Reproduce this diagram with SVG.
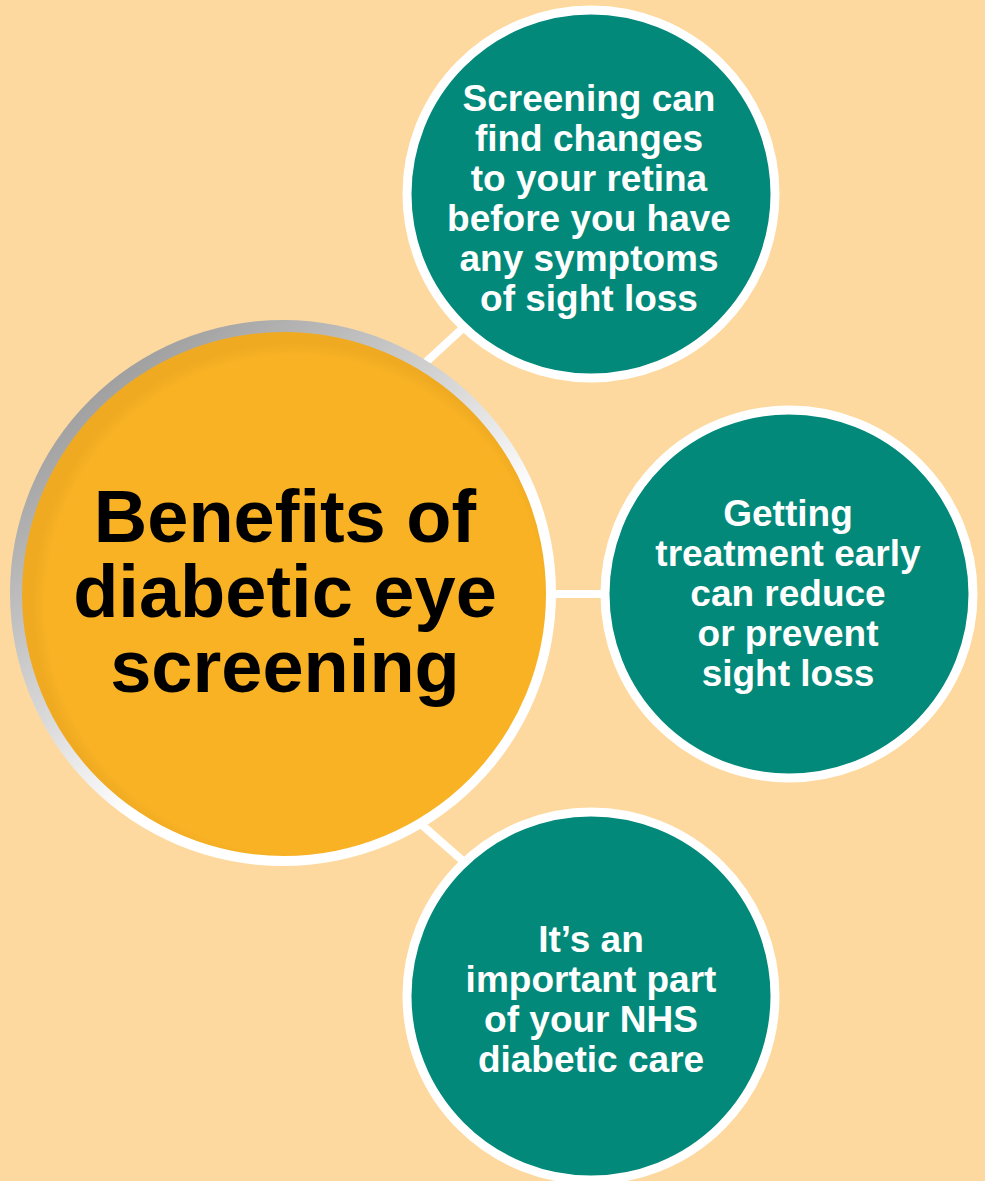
<svg xmlns="http://www.w3.org/2000/svg" width="985" height="1181" viewBox="0 0 985 1181">
<defs>
<linearGradient id="ring" x1="0.15" y1="0.1" x2="0.75" y2="0.85">
<stop offset="0" stop-color="#9c9c9c"/>
<stop offset="0.45" stop-color="#d8d8d8"/>
<stop offset="0.7" stop-color="#ffffff"/>
<stop offset="1" stop-color="#ffffff"/>
</linearGradient>
<radialGradient id="orangeFill" cx="0.52" cy="0.52" r="0.5">
<stop offset="0.95" stop-color="#F9B224"/>
<stop offset="1" stop-color="#EFAA22"/>
</radialGradient>
<style>
.bg{fill:#FDD99F}
.conn{stroke:#ffffff;stroke-width:8;fill:none}
.teal{fill:#02897A;stroke:#ffffff;stroke-width:9}
.wt{font-family:"Liberation Sans",Arial,sans-serif;font-weight:bold;font-size:37px;fill:#ffffff;text-anchor:middle}
.bt{font-family:"Liberation Sans",Arial,sans-serif;font-weight:bold;font-size:74px;fill:#000000;text-anchor:middle}
</style>
</defs>
<rect class="bg" x="0" y="0" width="985" height="1181"/>
<g id="connectors">
<line class="conn" x1="425" y1="363" x2="463" y2="328"/>
<line class="conn" x1="552" y1="594" x2="606" y2="594"/>
<line class="conn" x1="422" y1="825" x2="463" y2="861"/>
</g>
<g id="center">
<circle cx="283" cy="593" r="273" fill="url(#ring)"/>
<circle cx="284" cy="594" r="262" fill="url(#orangeFill)"/>
<text class="bt" x="285" y="542">Benefits of</text>
<text class="bt" x="285" y="617">diabetic eye</text>
<text class="bt" x="285" y="692">screening</text>
</g>
<g id="node-top">
<circle class="teal" cx="591" cy="194" r="184"/>
<text class="wt" x="589" y="111">Screening can</text>
<text class="wt" x="589" y="151">find changes</text>
<text class="wt" x="589" y="191">to your retina</text>
<text class="wt" x="589" y="231">before you have</text>
<text class="wt" x="589" y="271">any symptoms</text>
<text class="wt" x="589" y="311">of sight loss</text>
</g>
<g id="node-middle">
<circle class="teal" cx="789" cy="594" r="184"/>
<text class="wt" x="788" y="526">Getting</text>
<text class="wt" x="788" y="566">treatment early</text>
<text class="wt" x="788" y="606">can reduce</text>
<text class="wt" x="788" y="646">or prevent</text>
<text class="wt" x="788" y="686">sight loss</text>
</g>
<g id="node-bottom">
<circle class="teal" cx="591" cy="996" r="184"/>
<text class="wt" x="591" y="952">It’s an</text>
<text class="wt" x="591" y="992">important part</text>
<text class="wt" x="591" y="1032">of your NHS</text>
<text class="wt" x="591" y="1072">diabetic care</text>
</g>
</svg>
